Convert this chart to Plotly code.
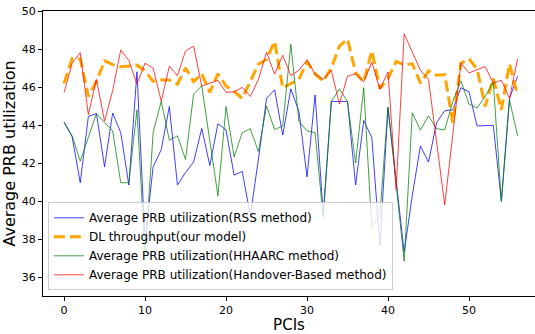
import plotly.graph_objects as go

pci = list(range(57))

rss = [44.15, 43.38, 40.96, 44.45, 44.6, 41.8, 44.63, 43.6, 40.84, 46.8,
       37.9, 41.8, 42.7, 44.97, 40.84, 41.5, 42.05, 43.82, 41.87, 44.07,
       43.74, 41.36, 41.56, 39.22, 42.2, 45.4, 45.85, 43.47, 45.9, 44.72,
       41.27, 45.58, 39.3, 45.24, 45.24, 45.24, 40.84, 44.24, 43.34, 37.65,
       44.9, 41.2, 37.3, 40.3, 42.9, 42.05, 44.12, 44.75, 44.8, 45.96,
       45.75, 43.95, 43.95, 43.98, 39.98, 45.4, 46.56]

dl_model = [46.19, 47.5, 47.48, 45.5, 46.3, 47.38, 47.18, 47.07, 47.1, 47.15,
            46.85, 46.3, 46.38, 46.36, 46.15, 47.0, 46.28, 46.7, 45.72, 46.7,
            46.05, 45.76, 45.4, 46.3, 47.2, 47.45, 48.4, 45.95, 46.17, 46.4,
            47.33, 46.7, 46.3, 47.0, 48.15, 48.52, 46.75, 46.27, 47.91, 45.92,
            46.45, 47.35, 47.17, 47.22, 46.2, 46.85, 46.62, 46.65, 44.12, 47.25,
            47.48, 46.95, 44.98, 46.45, 44.8, 47.22, 45.57]

hhaarc = [44.15, 43.42, 42.1, 43.3, 44.6, 44.13, 43.7, 40.96, 40.96, 44.8,
          37.1, 43.6, 45.25, 43.2, 43.43, 42.19, 45.62, 46.06, 43.2, 40.27,
          44.97, 42.32, 43.6, 43.8, 42.6, 45.0, 43.76, 43.95, 48.25, 44.2,
          43.69, 43.6, 39.1, 45.24, 45.9, 45.24, 42.0, 45.96, 38.58, 39.3,
          44.95, 41.0, 36.83, 44.64, 43.73, 44.48, 43.81, 43.74, 45.24, 46.33,
          45.1, 44.89, 45.5, 46.27, 39.98, 45.32, 43.43]

handover = [45.7, 47.25, 47.8, 44.55, 46.4, 44.2, 45.8, 47.95, 47.4, 46.15,
            47.25, 47.0, 45.25, 47.1, 46.6, 47.9, 48.15, 46.05, 46.2, 46.35,
            45.72, 45.75, 45.98, 45.5, 46.4, 47.83, 46.68, 47.67, 46.6, 46.88,
            47.43, 46.67, 46.4, 46.88, 45.1, 46.57, 46.69, 46.27, 47.3, 45.88,
            46.79, 40.6, 48.8, 47.83, 46.88, 46.4, 43.1, 39.8, 43.5, 47.26,
            46.74, 46.93, 47.08, 46.19, 46.36, 45.4, 47.48]

names = ["Average PRB utilization(RSS method)",
         "DL throughput(our model)",
         "Average PRB utilization(HHAARC method)",
         "Average PRB utilization(Handover-Based method)"]

x_ticks = [0, 10, 20, 30, 40, 50]
y_ticks = [36, 38, 40, 42, 44, 46, 48, 50]

FONT = "DejaVu Sans, Verdana, sans-serif"

fig = go.Figure()
fig.add_trace(go.Scatter(x=pci, y=rss, mode="lines", name=names[0],
                         line=dict(color="rgba(0,0,255,0.75)", width=1)))
fig.add_trace(go.Scatter(x=pci, y=dl_model, mode="lines", name=names[1],
                         line=dict(color="#ffa500", width=3, dash="11px,5px")))
fig.add_trace(go.Scatter(x=pci, y=hhaarc, mode="lines", name=names[2],
                         line=dict(color="rgba(0,128,0,0.75)", width=1)))
fig.add_trace(go.Scatter(x=pci, y=handover, mode="lines", name=names[3],
                         line=dict(color="rgba(255,0,0,0.75)", width=1)))

fig.update_layout(
    width=535, height=334,
    margin=dict(l=43, r=0, t=11, b=32),
    paper_bgcolor="white", plot_bgcolor="white",
    font=dict(family=FONT, color="black", size=11),
    showlegend=True,
    legend=dict(x=0.01, y=0.02, xanchor="left", yanchor="bottom",
                bgcolor="rgba(255,255,255,0.8)", bordercolor="rgba(204,204,204,1)",
                borderwidth=1, font=dict(size=12, family=FONT),
                tracegroupgap=0, itemwidth=30),
)
fig.update_xaxes(range=[-2.6, 58.15], tickvals=x_ticks, ticks="outside", ticklen=4,
                 tickcolor="black", showgrid=False, zeroline=False,
                 showline=True, linecolor="black", linewidth=1.2, mirror=True,
                 tickfont=dict(size=11),
                 title=dict(text="PCIs", font=dict(size=15), standoff=6))
fig.update_yaxes(range=[35, 50], tickvals=y_ticks, ticks="outside", ticklen=4,
                 tickcolor="black", showgrid=False, zeroline=False,
                 showline=True, linecolor="black", linewidth=1.2, mirror=False,
                 tickfont=dict(size=11),
                 title=dict(text="Average PRB utilization", font=dict(size=16), standoff=2))

fig.write_html("out.html")
